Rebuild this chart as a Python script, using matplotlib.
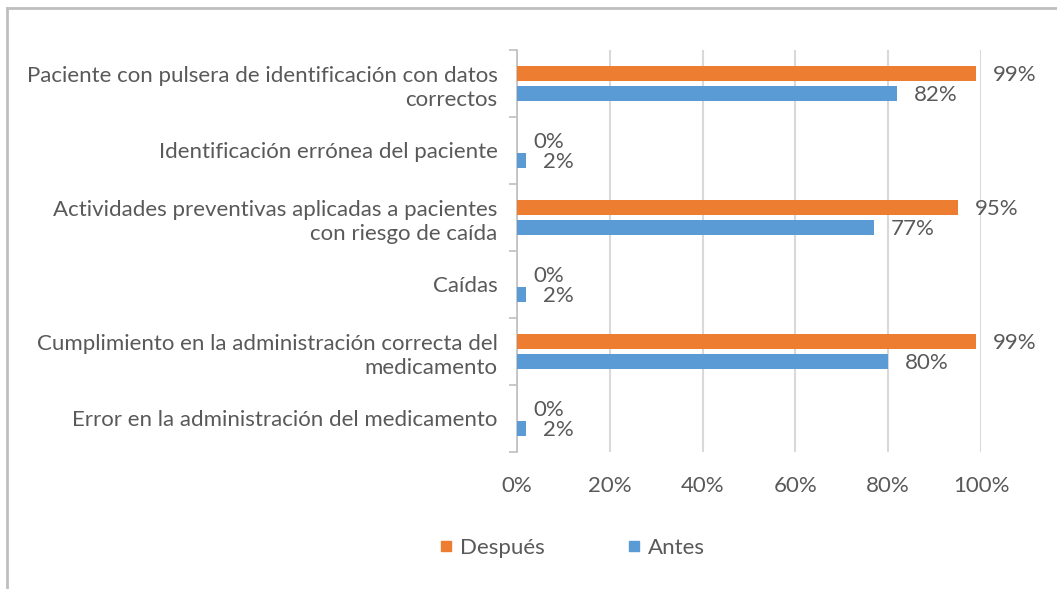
import matplotlib
matplotlib.use("Agg")
import matplotlib.pyplot as plt
from matplotlib.lines import Line2D
import numpy as np

plt.rcParams['font.family'] = ['Lato', 'DejaVu Sans']

categories = [
    "Paciente con pulsera de identificación con datos\ncorrectos",
    "Identificación errónea del paciente",
    "Actividades preventivas aplicadas a pacientes\ncon riesgo de caída",
    "Caídas",
    "Cumplimiento en la administración correcta del\nmedicamento",
    "Error en la administración del medicamento",
]
despues = [99, 0, 95, 0, 99, 0]
antes = [82, 2, 77, 2, 80, 2]
xticks = [0, 20, 40, 60, 80, 100]
xtick_labels = ["0%", "20%", "40%", "60%", "80%", "100%"]

ORANGE = "#ED7D31"
BLUE = "#5B9BD5"
TXT = "#595959"
GRID = "#D9D9D9"
FS = 16

fig = plt.figure(figsize=(10.57, 5.89), dpi=100)
ax = fig.add_axes([517/1057, 1-452/589, (981-517)/1057, (452-50)/589])

n = len(categories)
centers = np.arange(n)[::-1].astype(float)  # top category first
h = 0.225
gap = 0.075
y_desp = centers + (h/2 + gap/2)
y_ant = centers - (h/2 + gap/2)

ax.barh(y_desp, despues, height=h, color=ORANGE, zorder=3)
ax.barh(y_ant, antes, height=h, color=BLUE, zorder=3)

for y, v in zip(y_desp, despues):
    ax.annotate(f"{v}%", xy=(v, y), xytext=(12, -1), textcoords="offset points",
                ha="left", va="center", fontsize=FS, color=TXT)
for y, v in zip(y_ant, antes):
    ax.annotate(f"{v}%", xy=(v, y), xytext=(12, -1), textcoords="offset points",
                ha="left", va="center", fontsize=FS, color=TXT)

ax.set_xlim(0, 100)
ax.set_ylim(-0.5, n - 0.5)
ax.set_xticks(xticks)
ax.set_xticklabels(xtick_labels, fontsize=FS, color=TXT)
ax.tick_params(axis="x", length=0, pad=17)

ax.set_yticks(np.arange(n + 1) - 0.5)
ax.set_yticklabels([])
ax.set_yticks(centers, minor=True)
ax.set_yticklabels(categories, minor=True, fontsize=FS, color=TXT, ha="right",
                   linespacing=1.28)
ax.tick_params(axis="y", which="major", length=6, color="#BFBFBF", width=1.2)
ax.tick_params(axis="y", which="minor", length=0, pad=14)

ax.grid(axis="x", color=GRID, linewidth=1.5, zorder=0)
ax.set_axisbelow(True)
for s in ["top", "right", "bottom"]:
    ax.spines[s].set_visible(False)
ax.spines["left"].set_color("#BFBFBF")
ax.spines["left"].set_linewidth(1.2)

handles = [
    Line2D([], [], marker="s", linestyle="none", markersize=7, color=ORANGE),
    Line2D([], [], marker="s", linestyle="none", markersize=7, color=BLUE),
]
fig.legend(handles, ["Después", "Antes"], loc="center", bbox_to_anchor=(571/1057, 1-548/589),
           ncol=2, frameon=False, fontsize=FS, labelcolor=TXT, columnspacing=3.64,
           handletextpad=0.2, handlelength=0.8)

# chart area border (top and left visible)
fig.add_artist(Line2D([7/1057, 1], [1-8/589, 1-8/589], transform=fig.transFigure,
                      color="#BFBFBF", linewidth=2))
fig.add_artist(Line2D([7/1057, 7/1057], [0, 1-8/589], transform=fig.transFigure,
                      color="#BFBFBF", linewidth=2))

fig.savefig("out.png", dpi=100)
